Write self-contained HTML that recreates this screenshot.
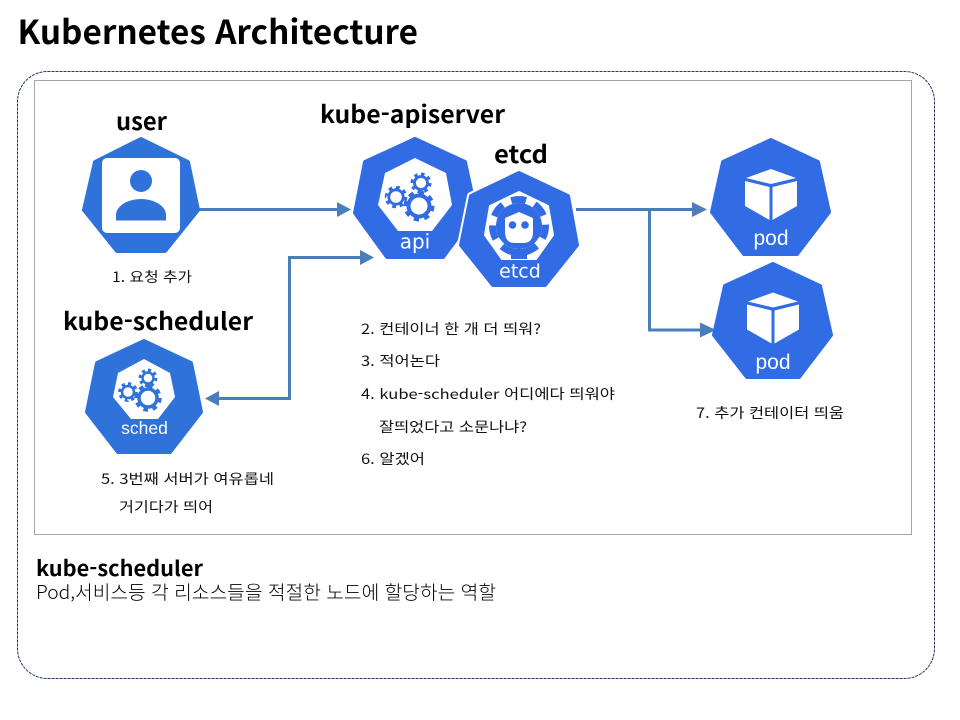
<!DOCTYPE html>
<html lang="ko">
<head>
<meta charset="utf-8">
<title>Kubernetes Architecture</title>
<style>
html,body{margin:0;padding:0;background:#fff;width:960px;height:720px;overflow:hidden}
svg{display:block}
.b{font-family:"Noto Sans CJK KR","Liberation Sans",sans-serif;font-weight:700;fill:#000}
.t{font-family:"Noto Sans CJK KR","Liberation Sans",sans-serif;font-size:14px;fill:#111;font-weight:400}
.w{font-family:"DejaVu Sans",sans-serif;fill:#fff}
.a{font-family:"Liberation Sans",sans-serif;fill:#fff}
.arrow{fill:none;stroke:#4a7ebb;stroke-width:3}
.head{fill:#4a7ebb}
.hept{stroke-width:4;stroke-linejoin:round}
</style>
</head>
<body>
<svg width="960" height="720" viewBox="0 0 960 720" xmlns="http://www.w3.org/2000/svg">
<rect width="960" height="720" fill="#fff"/>

<rect x="17.5" y="71.5" width="917" height="607" rx="30" ry="30" fill="none" stroke="#1f3864" stroke-width="1" stroke-dasharray="3 1"/>
<rect x="34.5" y="80.5" width="877" height="454" fill="none" stroke="#a6a6a6" stroke-width="1"/>

<text class="b" x="17.5" y="44" font-size="33" textLength="400.500" lengthAdjust="spacingAndGlyphs">Kubernetes Architecture</text>
<text class="b" x="116" y="130" font-size="24" textLength="51" lengthAdjust="spacingAndGlyphs">user</text>
<text class="b" x="320" y="123" font-size="24" textLength="185" lengthAdjust="spacingAndGlyphs">kube-apiserver</text>
<text class="b" x="494" y="163" font-size="24" textLength="54" lengthAdjust="spacingAndGlyphs">etcd</text>
<text class="b" x="63" y="330" font-size="24" textLength="190" lengthAdjust="spacingAndGlyphs">kube-scheduler</text>

<!-- connectors -->
<path class="arrow" d="M183 209.5H340"/>
<polygon class="head" points="337,202 351,209.5 337,217"/>
<path class="arrow" d="M362 257.5H289.5V398.5H216"/>
<polygon class="head" points="360,250 374,257.5 360,265"/>
<polygon class="head" points="219,391 205,398.5 219,406"/>
<path class="arrow" d="M576 209.5H696M649.5 209.5V330H704"/>
<polygon class="head" points="692,202 707,209.5 692,217"/>
<polygon class="head" points="700,322.5 716,330 700,337.5"/>

<!-- user -->
<polygon class="hept" fill="#2f72d9" stroke="#2f72d9" points="141,139 188,162 198,210 165,251 117,251 84,210 95,162"/>
<rect x="102" y="158" width="78" height="75" rx="5" fill="#fff"/>
<circle cx="141" cy="181" r="11" fill="#2f72d9"/>
<path d="M116 220.5V215C116 206 128 199 141 199S166 206 166 215V220.5Z" fill="#2f72d9"/>

<!-- api -->
<polygon class="hept" fill="#326ce5" stroke="#326ce5" points="415,139 465,162 476,213 443,257 387,257 355,213 365,162"/>
<polygon fill="#fff" points="415,158 446,173 452,205 432,231 398,231 378,205 385,173"/>
<g fill="none" stroke="#326ce5">
  <circle cx="419" cy="206" r="10.5" stroke-width="4"/>
  <circle cx="419" cy="206" r="13.5" stroke-width="4" pathLength="80" stroke-dasharray="5 5"/>
  <circle cx="421" cy="183" r="6.5" stroke-width="2.8"/>
  <circle cx="421" cy="183" r="9" stroke-width="3" pathLength="80" stroke-dasharray="5 5"/>
  <circle cx="396" cy="197" r="7.2" stroke-width="2.8"/>
  <circle cx="396" cy="197" r="9.8" stroke-width="3" pathLength="80" stroke-dasharray="5 5"/>
</g>
<text class="w" x="415" y="248.500" font-size="20" text-anchor="middle">api</text>

<!-- etcd -->
<polygon fill="#fff" stroke="#fff" stroke-width="8" stroke-linejoin="round" points="519,173 568,196 577,245 545,285 493,285 461,245 471,196"/>
<polygon class="hept" fill="#326ce5" stroke="#326ce5" points="519,173 568,196 577,245 545,285 493,285 461,245 471,196"/>
<polygon fill="#fff" stroke="#fff" stroke-width="2" stroke-linejoin="round" points="519,192 548,206 553,235 536,259 502,259 485,235 490,206"/>
<circle cx="519" cy="226" r="23" fill="#326ce5"/>
<circle cx="519" cy="226" r="26.5" fill="none" stroke="#326ce5" stroke-width="7" pathLength="70" stroke-dasharray="6 4" stroke-dashoffset="3" transform="rotate(-90 519 226)"/>
<rect x="511" y="249" width="16" height="10" fill="#326ce5"/>
<path d="M519 212L533 218V232Q533 243 523 243H515Q505 243 505 232V218Z" fill="#fff"/>
<circle cx="512.500" cy="225" r="3.800" fill="#326ce5"/>
<circle cx="525" cy="225" r="3.800" fill="#326ce5"/>
<text class="w" x="520" y="277.500" font-size="19" text-anchor="middle">etcd</text>

<!-- pod 1 -->
<polygon class="hept" fill="#326ce5" stroke="#326ce5" points="771,140 818,162 829,212 797,254 744,254 712,212 723,162"/>
<g fill="#fff">
  <polygon points="771,169 796,178 771,184 746,178"/>
  <polygon points="745,181 769.500,187 769.500,220 745,206"/>
  <polygon points="797,181 772.500,187 772.500,220 797,206"/>
</g>
<text class="a" x="771" y="245" font-size="21" text-anchor="middle">pod</text>

<!-- pod 2 -->
<polygon class="hept" fill="#326ce5" stroke="#326ce5" points="773,264 820,286 831,335 799,377 747,377 714,335 725,286"/>
<g fill="#fff" transform="translate(2 123.500)">
  <polygon points="771,169 796,178 771,184 746,178"/>
  <polygon points="745,181 769.500,187 769.500,220 745,206"/>
  <polygon points="797,181 772.500,187 772.500,220 797,206"/>
</g>
<text class="a" x="773" y="369" font-size="21" text-anchor="middle">pod</text>

<!-- scheduler -->
<polygon class="hept" fill="#2f72d9" stroke="#2f72d9" points="144,341 191,363 201,412 170,452 118,452 87,412 97,363"/>
<polygon fill="#fff" points="144,359 170,373 175,397 158,419 131,419 113,397 118,373"/>
<g fill="none" stroke="#2f72d9">
  <circle cx="148" cy="398" r="9" stroke-width="3.500"/>
  <circle cx="148" cy="398" r="12" stroke-width="3.500" pathLength="80" stroke-dasharray="5 5"/>
  <circle cx="148" cy="378" r="5.500" stroke-width="2.500"/>
  <circle cx="148" cy="378" r="8" stroke-width="2.800" pathLength="80" stroke-dasharray="5 5"/>
  <circle cx="128" cy="392" r="6" stroke-width="2.500"/>
  <circle cx="128" cy="392" r="8.500" stroke-width="2.800" pathLength="80" stroke-dasharray="5 5"/>
</g>
<text class="a" x="144.500" y="434" font-size="17.500" text-anchor="middle">sched</text>

<!-- annotations -->
<text class="t" x="112" y="282" textLength="80" lengthAdjust="spacingAndGlyphs">1. 요청 추가</text>
<text class="t" x="361" y="334" textLength="180" lengthAdjust="spacingAndGlyphs">2. 컨테이너 한 개 더 띄워?</text>
<text class="t" x="361" y="366" textLength="79" lengthAdjust="spacingAndGlyphs">3. 적어논다</text>
<text class="t" x="361" y="399" textLength="254" lengthAdjust="spacingAndGlyphs">4. kube-scheduler 어디에다 띄워야</text>
<text class="t" x="379" y="432" textLength="148" lengthAdjust="spacingAndGlyphs">잘띄었다고 소문나냐?</text>
<text class="t" x="361" y="464" textLength="64" lengthAdjust="spacingAndGlyphs">6. 알겠어</text>
<text class="t" x="101" y="484" textLength="173" lengthAdjust="spacingAndGlyphs">5. 3번째 서버가 여유롭네</text>
<text class="t" x="119" y="512" textLength="94" lengthAdjust="spacingAndGlyphs">거기다가 띄어</text>
<text class="t" x="696" y="418" textLength="148" lengthAdjust="spacingAndGlyphs">7. 추가 컨테이터 띄움</text>

<text class="b" x="36" y="576" font-size="21" textLength="167" lengthAdjust="spacingAndGlyphs">kube-scheduler</text>
<text class="t" x="36" y="599" style="font-size:19px;font-weight:300;fill:#000" textLength="460" lengthAdjust="spacingAndGlyphs">Pod,서비스등 각 리소스들을 적절한 노드에 할당하는 역할</text>
</svg>
</body>
</html>
